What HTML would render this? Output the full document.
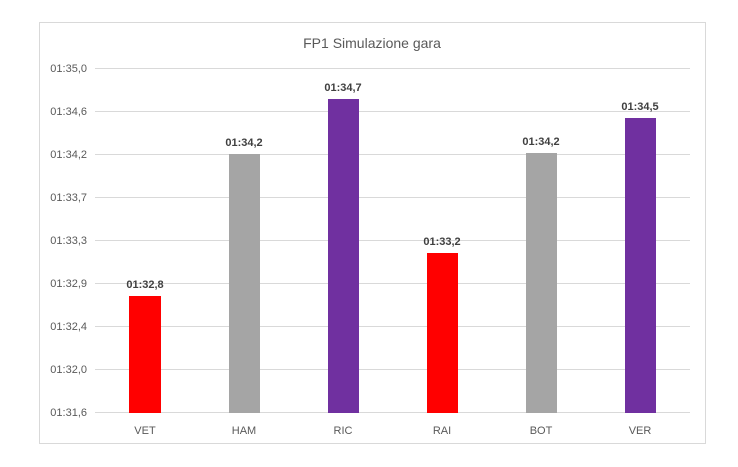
<!DOCTYPE html>
<html><head><style>
body{margin:0;background:#fff;width:738px;height:462px;overflow:hidden;font-family:"Liberation Sans",sans-serif}
</style></head><body>
<svg width="738" height="462" xmlns="http://www.w3.org/2000/svg" font-family="Liberation Sans, sans-serif">
<rect x="39.5" y="22.5" width="666" height="421" fill="#fff" stroke="#d9d9d9"/>
<text x="372" y="48" font-size="14" fill="#595959" text-anchor="middle">FP1 Simulazione gara</text>
<g stroke="#d9d9d9" stroke-width="1">
<line x1="95" x2="690" y1="68.5" y2="68.5"/><line x1="95" x2="690" y1="111.5" y2="111.5"/>
<line x1="95" x2="690" y1="154.5" y2="154.5"/><line x1="95" x2="690" y1="197.5" y2="197.5"/>
<line x1="95" x2="690" y1="240.5" y2="240.5"/><line x1="95" x2="690" y1="283.5" y2="283.5"/>
<line x1="95" x2="690" y1="326.5" y2="326.5"/><line x1="95" x2="690" y1="369.5" y2="369.5"/>
<line x1="95" x2="690" y1="412.5" y2="412.5"/></g>
<g font-size="11" fill="#595959" text-anchor="end">
<text x="87" y="72">01:35,0</text><text x="87" y="115">01:34,6</text><text x="87" y="158">01:34,2</text>
<text x="87" y="201">01:33,7</text><text x="87" y="244">01:33,3</text><text x="87" y="287">01:32,9</text>
<text x="87" y="330">01:32,4</text><text x="87" y="373">01:32,0</text><text x="87" y="416">01:31,6</text></g>
<rect x="129" y="296" width="32" height="117" fill="#ff0000"/>
<rect x="229" y="154" width="31" height="259" fill="#a5a5a5"/>
<rect x="328" y="99" width="31" height="314" fill="#7030a0"/>
<rect x="427" y="253" width="31" height="160" fill="#ff0000"/>
<rect x="526" y="153" width="31" height="260" fill="#a5a5a5"/>
<rect x="625" y="118" width="31" height="295" fill="#7030a0"/>
<g font-size="11" font-weight="bold" fill="#404040" text-anchor="middle">
<text x="145" y="288">01:32,8</text><text x="244" y="146">01:34,2</text><text x="343" y="91">01:34,7</text>
<text x="442" y="245">01:33,2</text><text x="541" y="145">01:34,2</text><text x="640" y="110">01:34,5</text></g>
<g font-size="11" fill="#595959" text-anchor="middle">
<text x="145" y="434">VET</text><text x="244" y="434">HAM</text><text x="343" y="434">RIC</text>
<text x="442" y="434">RAI</text><text x="541" y="434">BOT</text><text x="640" y="434">VER</text></g>
</svg>
</body></html>
